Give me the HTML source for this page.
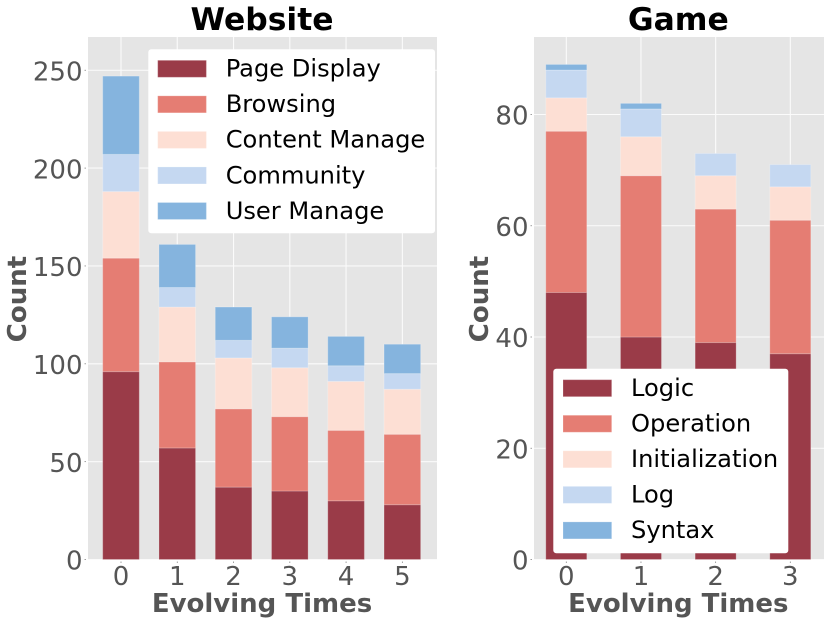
<!DOCTYPE html>
<html lang="en">
<head>
<meta charset="utf-8">
<title>Website and Game Evolving Times</title>
<style>
html,body{margin:0;padding:0;background:#fff;width:830px;height:623px;overflow:hidden}
svg{display:block;font-family:"DejaVu Sans","Liberation Sans",sans-serif}
.title{font-size:31.4px;font-weight:700;fill:#000;text-anchor:middle}
.axis-title{font-size:26px;font-weight:700;fill:#555;text-anchor:middle}
.legend-text{font-size:24.15px;fill:#000}
</style>
</head>
<body>
<svg id="chart" width="830" height="623" viewBox="0 0 830 623" xmlns="http://www.w3.org/2000/svg">
  <rect x="0" y="0" width="830" height="623" fill="#fff"/>

  <g id="website-panel">
    <rect x="88" y="37" width="349" height="522.5" fill="#e5e5e5"/>
    <g id="website-grid"></g>
    <g id="website-bars"></g>
    <g id="website-ticks"></g>
    <text class="title" x="262" y="30">Website</text>
    <text class="axis-title" x="262" y="612">Evolving Times</text>
    <text class="axis-title" transform="translate(26,299) rotate(-90)">Count</text>
    <g id="website-legend">
      <rect x="148.3" y="49.3" width="286.7" height="184" rx="3" fill="#fff"/>
    </g>
  </g>

  <g id="game-panel">
    <rect x="534" y="37" width="290" height="522.5" fill="#e5e5e5"/>
    <g id="game-grid"></g>
    <g id="game-bars"></g>
    <g id="game-ticks"></g>
    <text class="title" x="678.3" y="30">Game</text>
    <text class="axis-title" x="678.3" y="612">Evolving Times</text>
    <text class="axis-title" transform="translate(488,299) rotate(-90)">Count</text>
    <g id="game-legend">
      <rect x="553.3" y="368.7" width="235" height="184.6" rx="3" fill="#fff"/>
    </g>
  </g>
</svg>

<script>
var websiteCategories = [0, 1, 2, 3, 4, 5];
var websiteYTicks = [0, 50, 100, 150, 200, 250];
var websiteSeriesNames = ['Page Display', 'Browsing', 'Content Manage', 'Community', 'User Manage'];
var websitePageDisplay = [96, 57, 37, 35, 30, 28];
var websiteBrowsing = [58, 44, 40, 38, 36, 36];
var websiteContentManage = [34, 28, 26, 25, 25, 23];
var websiteCommunity = [19, 10, 9, 10, 8, 8];
var websiteUserManage = [40, 22, 17, 16, 15, 15];

var gameCategories = [0, 1, 2, 3];
var gameYTicks = [0, 20, 40, 60, 80];
var gameSeriesNames = ['Logic', 'Operation', 'Initialization', 'Log', 'Syntax'];
var gameLogic = [48, 40, 39, 37];
var gameOperation = [29, 29, 24, 24];
var gameInitialization = [6, 7, 6, 6];
var gameLog = [5, 5, 4, 4];
var gameSyntax = [1, 1, 0, 0];

var seriesColors = ['#9a3b48', '#e57d73', '#fddfd4', '#c5d8f1', '#85b4de'];
var SVG_NS = 'http://www.w3.org/2000/svg';

function slug(s) {
  return String(s).toLowerCase().replace(/\s+/g, '-');
}

function drawPanel(cfg) {
  var gridG = document.getElementById(cfg.id + '-grid');
  var barsG = document.getElementById(cfg.id + '-bars');
  var ticksG = document.getElementById(cfg.id + '-ticks');
  var legendG = document.getElementById(cfg.id + '-legend');

  function xScale(c) { return cfg.x0 + c * cfg.xStep; }
  function yScale(v) { return cfg.y0 - v * cfg.yUnit; }

  cfg.categories.forEach(function (c) {
    var px = xScale(c);
    var line = document.createElementNS(SVG_NS, 'line');
    
    
    line.setAttribute('x1', px);
    line.setAttribute('x2', px);
    line.setAttribute('y1', cfg.top);
    line.setAttribute('y2', cfg.y0);
    line.setAttribute('stroke', '#fbfbfb');
    line.setAttribute('stroke-width', '1.1');
    gridG.appendChild(line);

    var tick = document.createElementNS(SVG_NS, 'line');
    
    
    tick.setAttribute('x1', px);
    tick.setAttribute('x2', px);
    tick.setAttribute('y1', cfg.y0 + 2);
    tick.setAttribute('y2', cfg.y0 + 3.5);
    tick.setAttribute('stroke', '#888');
    tick.setAttribute('stroke-width', '0.8');
    ticksG.appendChild(tick);

    var label = document.createElementNS(SVG_NS, 'text');
    
    
    label.setAttribute('x', px);
    label.setAttribute('y', 584.8);
    label.setAttribute('text-anchor', 'middle');
    label.setAttribute('font-size', '26');
    label.setAttribute('fill', '#555');
    label.textContent = c;
    ticksG.appendChild(label);
  });

  cfg.yTicks.forEach(function (v) {
    var py = yScale(v);
    var line = document.createElementNS(SVG_NS, 'line');
    
    
    line.setAttribute('x1', cfg.left);
    line.setAttribute('x2', cfg.right);
    line.setAttribute('y1', py);
    line.setAttribute('y2', py);
    line.setAttribute('stroke', '#fbfbfb');
    line.setAttribute('stroke-width', '1.1');
    gridG.appendChild(line);

    var tick = document.createElementNS(SVG_NS, 'line');
    
    
    tick.setAttribute('x1', cfg.left - 3.5);
    tick.setAttribute('x2', cfg.left - 2);
    tick.setAttribute('y1', py);
    tick.setAttribute('y2', py);
    tick.setAttribute('stroke', '#888');
    tick.setAttribute('stroke-width', '0.8');
    ticksG.appendChild(tick);

    var label = document.createElementNS(SVG_NS, 'text');
    
    
    label.setAttribute('x', cfg.left - 5.5);
    label.setAttribute('y', py + 10.2);
    label.setAttribute('text-anchor', 'end');
    label.setAttribute('font-size', '26');
    label.setAttribute('fill', '#555');
    label.textContent = v;
    ticksG.appendChild(label);
  });

  cfg.categories.forEach(function (c, i) {
    var base = 0;
    cfg.series.forEach(function (values, s) {
      var val = values[i];
      if (val > 0) {
        var rect = document.createElementNS(SVG_NS, 'rect');
        
        
        rect.setAttribute('x', xScale(c) - cfg.barWidth / 2);
        rect.setAttribute('y', yScale(base + val));
        rect.setAttribute('width', cfg.barWidth);
        rect.setAttribute('height', val * cfg.yUnit);
        rect.setAttribute('fill', seriesColors[s]);
        rect.setAttribute('stroke', 'rgba(255,255,255,0.22)');
        rect.setAttribute('stroke-width', '1');
        barsG.appendChild(rect);
      }
      base += val;
    });
  });

  cfg.names.forEach(function (name, s) {
    var rowY = cfg.legendY + s * 35.55;
    var patch = document.createElementNS(SVG_NS, 'rect');
    
    
    patch.setAttribute('x', cfg.legendX);
    patch.setAttribute('y', rowY);
    patch.setAttribute('width', 48.7);
    patch.setAttribute('height', 17);
    patch.setAttribute('fill', seriesColors[s]);
    patch.setAttribute('stroke', 'rgba(255,255,255,0.22)');
    patch.setAttribute('stroke-width', '1');
    legendG.appendChild(patch);

    var text = document.createElementNS(SVG_NS, 'text');
    
    
    text.setAttribute('class', 'legend-text');
    text.setAttribute('x', cfg.legendX + 68);
    text.setAttribute('y', rowY + 16.3);
    text.textContent = name;
    legendG.appendChild(text);
  });
}

drawPanel({
  id: 'website',
  categories: websiteCategories,
  yTicks: websiteYTicks,
  names: websiteSeriesNames,
  series: [websitePageDisplay, websiteBrowsing, websiteContentManage, websiteCommunity, websiteUserManage],
  left: 88, right: 437, top: 37, y0: 559.5,
  x0: 121, xStep: 56.27, yUnit: 1.957, barWidth: 36.6,
  legendX: 157.7, legendY: 60.3
});

drawPanel({
  id: 'game',
  categories: gameCategories,
  yTicks: gameYTicks,
  names: gameSeriesNames,
  series: [gameLogic, gameOperation, gameInitialization, gameLog, gameSyntax],
  left: 534, right: 824, top: 37, y0: 559.5,
  x0: 566.3, xStep: 74.67, yUnit: 5.5625, barWidth: 41,
  legendX: 563, legendY: 379.7
});
</script>
</body>
</html>
